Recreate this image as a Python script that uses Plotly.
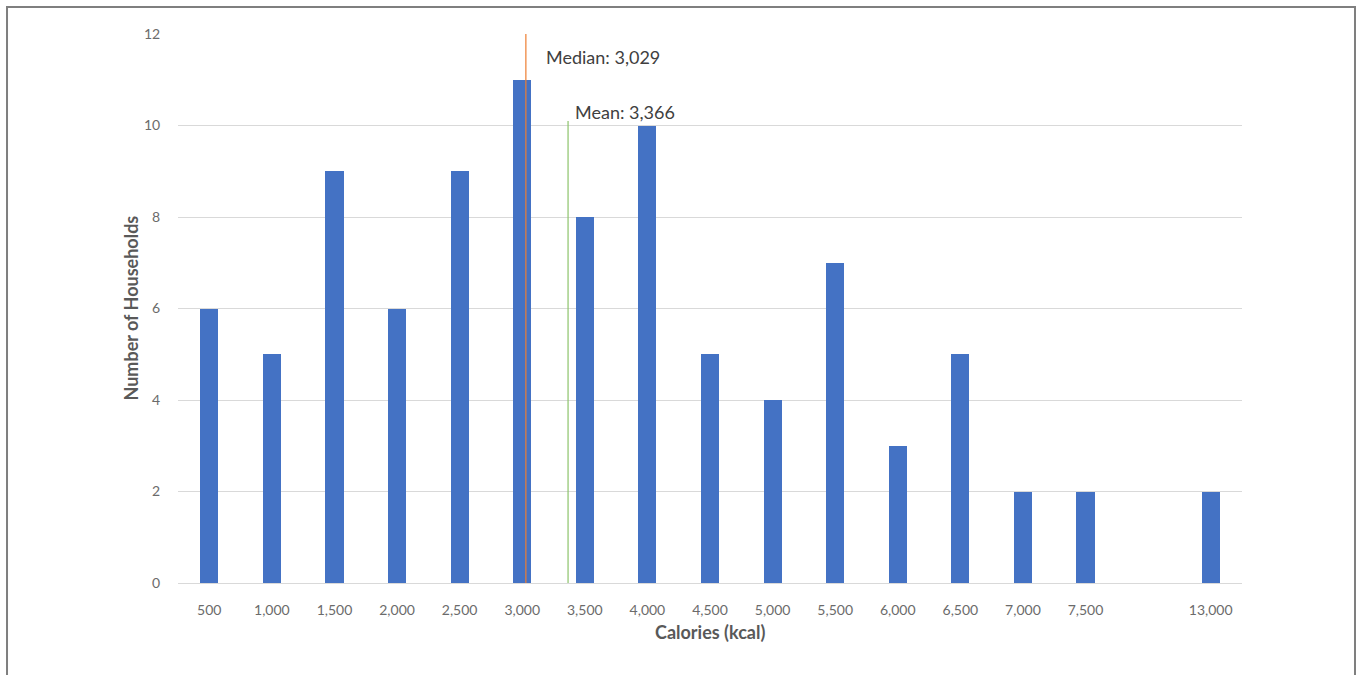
import plotly.graph_objects as go

# Histogram of household calorie intake (bins labelled by upper value)
bin_labels = ["500", "1,000", "1,500", "2,000", "2,500", "3,000", "3,500", "4,000",
              "4,500", "5,000", "5,500", "6,000", "6,500", "7,000", "7,500", "", "13,000"]
households = [6, 5, 9, 6, 9, 11, 8, 10, 5, 4, 7, 3, 5, 2, 2, None, 2]

median_kcal = 3029
mean_kcal = 3366
mean_line_top = 10.1

y_ticks = [0, 2, 4, 6, 8, 10, 12]

positions = list(range(len(bin_labels)))


def kcal_to_pos(v):
    # linear position between the 3,000 and 3,500 bins
    i0 = bin_labels.index("3,000")
    return i0 + (v - 3000) / 500.0


BLUE = "#4472C4"
GRID = "#D9D9D9"
TICK = "#6b6b6b"
TITLE = "#595959"
FONT = "Lato, 'Open Sans', sans-serif"

fig = go.Figure()
fig.add_trace(go.Bar(
    x=positions, y=households, width=0.29,
    marker=dict(color=BLUE, line=dict(width=0)),
    hoverinfo="x+y", showlegend=False,
))

mx = kcal_to_pos(median_kcal)
ax = kcal_to_pos(mean_kcal)

shapes = [
    dict(type="line", xref="x", yref="y", x0=mx, x1=mx, y0=0, y1=12,
         line=dict(color="#ED7D31", width=1.2)),
    dict(type="line", xref="x", yref="y", x0=ax, x1=ax, y0=0, y1=mean_line_top,
         line=dict(color="#8CC36A", width=1.2)),
    # outer frame
    dict(type="rect", xref="paper", yref="paper",
         x0=-0.1607, x1=1.1062, y0=-0.2, y1=1.0492,
         line=dict(color="#7F7F7F", width=2), fillcolor="rgba(0,0,0,0)", layer="below"),
]

annotations = [
    dict(x=mx, y=11.5, xref="x", yref="y", text=f"Median: {median_kcal:,}",
         showarrow=False, xanchor="left", yanchor="middle", xshift=18,
         font=dict(family=FONT, size=18, color="#404040")),
    dict(x=ax, y=10.3, xref="x", yref="y", text=f"Mean: {mean_kcal:,}",
         showarrow=False, xanchor="left", yanchor="middle", xshift=5,
         font=dict(family=FONT, size=18, color="#404040")),
    dict(x=0.5, y=-0.0, xref="paper", yref="paper", text="<b>Calories (kcal)</b>",
         showarrow=False, xanchor="center", yanchor="middle", yshift=-49,
         font=dict(family=FONT, size=18, color=TITLE)),
    dict(x=0, y=0.5, xref="paper", yref="paper", text="<b>Number of Households</b>",
         showarrow=False, textangle=-90, xanchor="center", yanchor="middle", xshift=-48,
         font=dict(family=FONT, size=18, color=TITLE)),
]

fig.update_layout(
    width=1362, height=675,
    margin=dict(l=178, r=120, t=34, b=92, pad=0),
    paper_bgcolor="white", plot_bgcolor="white",
    bargap=0,
    shapes=shapes, annotations=annotations,
    font=dict(family=FONT, color=TICK, size=14),
    xaxis=dict(
        range=[-0.5, len(bin_labels) - 0.5],
        tickmode="array", tickvals=positions, ticktext=bin_labels,
        showgrid=False, zeroline=False,
        showline=True, linecolor=GRID, linewidth=1,
        ticks="outside", ticklen=14, tickcolor="rgba(0,0,0,0)",
        tickfont=dict(family=FONT, size=14, color=TICK),
        fixedrange=True,
    ),
    yaxis=dict(
        range=[0, 12], tickmode="array", tickvals=y_ticks,
        showgrid=True, gridcolor=GRID, gridwidth=1,
        zeroline=False, showline=False,
        ticks="outside", ticklen=14, tickcolor="rgba(0,0,0,0)",
        tickfont=dict(family=FONT, size=14, color=TICK),
        fixedrange=True,
    ),
)

fig.write_html("out.html")
